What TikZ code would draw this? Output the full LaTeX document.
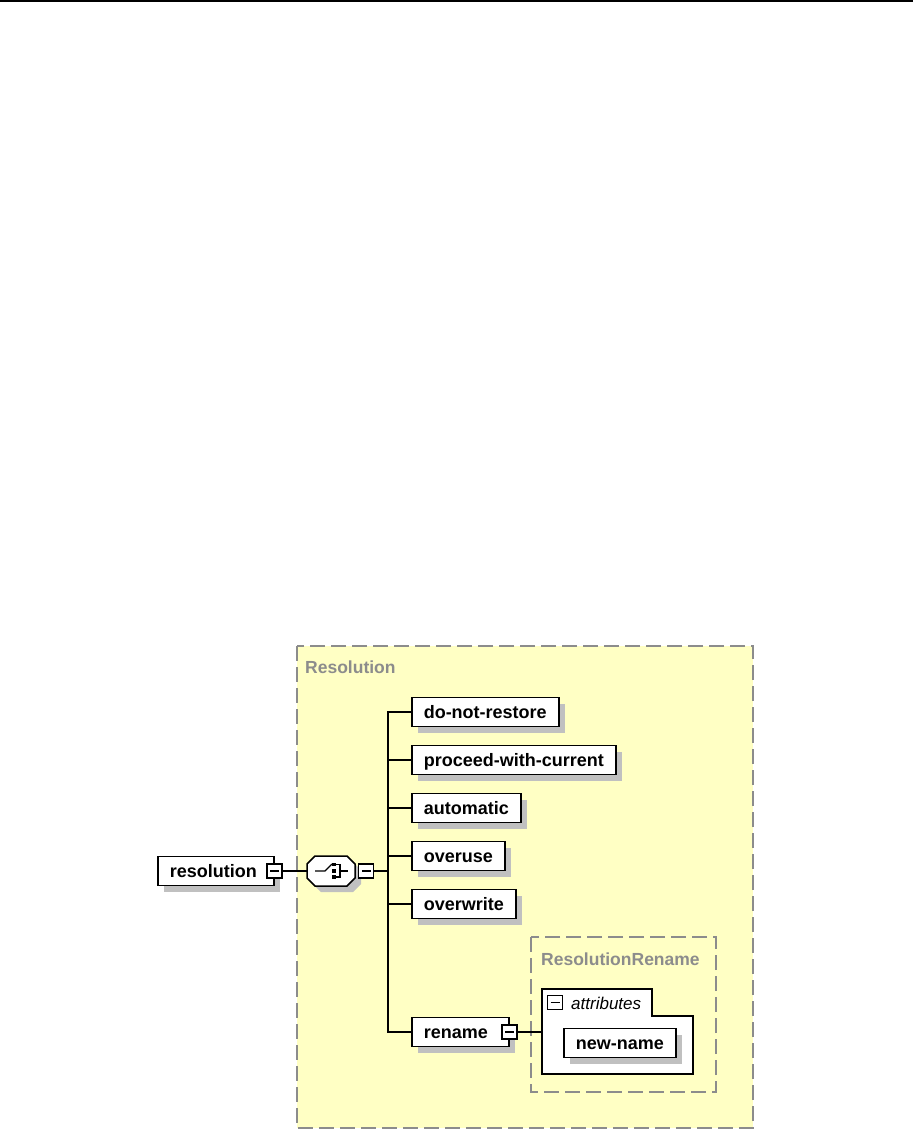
\documentclass[tikz,border=0pt]{standalone}
\usepackage{fontspec}
\setmainfont{Liberation Sans}
\usetikzlibrary{shadows,positioning,calc}

\definecolor{boxyellow}{RGB}{255,255,196}
\definecolor{dashgray}{RGB}{140,140,140}
\definecolor{shadowgray}{RGB}{192,192,192}

\tikzset{
  elem/.style={draw,fill=white,line width=1.5pt,anchor=west,
    font=\fontsize{18}{20}\selectfont\bfseries,inner xsep=12pt,inner ysep=0pt,
    minimum height=29pt,text height=13pt,text depth=0pt,
    drop shadow={shadow xshift=6pt,shadow yshift=-6pt,fill=shadowgray,opacity=1}},
  minusbox/.style={draw,fill=white,line width=1.2pt,inner sep=0pt,
    minimum width=15pt,minimum height=14pt,
    path picture={\draw[line width=1.2pt]
      ([xshift=3pt]path picture bounding box.west) --
      ([xshift=-3pt]path picture bounding box.east);}},
  group/.style={draw=dashgray,line width=1.5pt,dash pattern=on 15pt off 6pt},
  grouplabel/.style={anchor=west,inner sep=0pt,text=dashgray,
    font=\fontsize{17.5}{20}\selectfont\bfseries},
  link/.style={line width=1.5pt}
}

\begin{document}
\begin{tikzpicture}[x=1pt,y=-1pt]
      \useasboundingbox (0,0) rectangle (913,1131);
      % rule at the top
      \fill (0,0) rectangle (913,2.5);
      % complex type groups
      \draw[group,fill=boxyellow] (297,646) rectangle (753,1128);
      \node[grouplabel] (reslab) at (305,667) {Resolution};
      \draw[group] (531,937) rectangle (716,1092);
      \node[grouplabel] (renlab) at (541,959) {ResolutionRename};
      % root element
      \node[elem] (res) at (157,871) {resolution\kern5pt};
      \node[minusbox] (resmin) at (res.east) {};
      % choice compositor (octagon with switch icon)
      \node[minimum width=48pt,minimum height=30pt,inner sep=0pt] (choice) at (331,871) {};
      \begin{scope}[shift={(choice.center)}]
        \fill[shadowgray,shift={(6,6)}] (-24,-7) -- (-16,-15) -- (16,-15) -- (24,-7)
          -- (24,7) -- (16,15) -- (-16,15) -- (-24,7) -- cycle;
        \draw[fill=white,line width=1.5pt] (-24,-7) -- (-16,-15) -- (16,-15) -- (24,-7)
          -- (24,7) -- (16,15) -- (-16,15) -- (-24,7) -- cycle;
        \draw[line width=1.2pt] (-16,0) -- (-6,0) -- (1,-7);
        \fill (0.5,-8) rectangle (4.7,-4.8);
        \fill (0.5,-1.8) rectangle (4.7,1.8);
        \fill (0.5,4.2) rectangle (4.7,7.6);
        \draw[line width=1.2pt] (4.7,-6.4) -- (9,-6.4) -- (9,5.9) -- (4.7,5.9);
        \draw[line width=1.2pt] (9,0) -- (17,0);
      \end{scope}
      \node[minusbox,right=3pt of choice] (chmin) {};
      \coordinate (trunk) at (388,871);
      % children of the choice
      \node[elem] (dnr) at (411,712) {do-not-restore};
      \node[elem] (pwc) at (411,760) {proceed-with-current};
      \node[elem] (auto) at (411,808) {automatic};
      \node[elem] (ovu) at (411,856) {overuse};
      \node[elem] (ovw) at (411,904) {overwrite};
      \node[elem] (ren) at (411,1032) {rename\kern9pt};
      \node[minusbox] (renmin) at (ren.east) {};
      % attributes of rename
      \draw[fill=white,line width=1.5pt] (542,1074) -- (542,989) -- (652,989)
        -- (652,1016) -- (693,1016) -- (693,1074) -- cycle;
      \coordinate (attr) at (542,1032);
      \node[minusbox] (attmin) at (555,1002.5) {};
      \node[anchor=west,inner sep=0pt,font=\fontsize{17}{20}\selectfont\itshape]
        (attlab) at (571,1003) {attributes};
      \node[elem] (nn) at (563,1043) {new-name};
      % connectors
      \draw[link] (resmin) -- (choice);
      \draw[link] (chmin) -- (trunk);
      \foreach \n in {dnr,pwc,auto,ovu,ovw,ren}
        \draw[link] (trunk) |- (\n.west);
      \draw[link] (renmin) -- (attr);
\end{tikzpicture}
\end{document}
